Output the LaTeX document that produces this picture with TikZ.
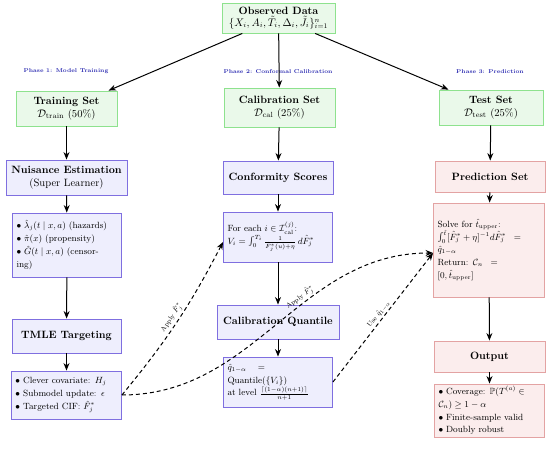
\documentclass[tikz,border=0pt]{standalone}
\usepackage{amsmath,amssymb}
\usetikzlibrary{arrows.meta}
\definecolor{gfill}{HTML}{EAF9EA}
\definecolor{gdraw}{HTML}{8EE28E}
\definecolor{bfill}{HTML}{EEEEFD}
\definecolor{bdraw}{HTML}{7F6FE0}
\definecolor{pfill}{HTML}{FBEDED}
\definecolor{pdraw}{HTML}{E3A3A3}
\definecolor{phasec}{HTML}{2A2AB0}
\begin{document}
\begin{tikzpicture}[x=1pt,y=1pt,
 box/.style={draw, line width=0.9pt, align=center, inner sep=2pt, font=\fontsize{10.6}{12.5}\selectfont},
 gbox/.style={box, draw=gdraw, fill=gfill},
 bbox/.style={box, draw=bdraw, fill=bfill},
 pbox/.style={box, draw=pdraw, fill=pfill},
 lst/.style={align=left, text width=#1, font=\fontsize{9}{12.8}\selectfont, inner xsep=4pt},
 phase/.style={font=\fontsize{5.6}{6}\selectfont\bfseries, text=phasec},
 arr/.style={-{Stealth[length=7.5pt,width=6pt]}, line width=1pt},
 darr/.style={arr, dash pattern=on 4pt off 3pt},
 lbl/.style={font=\fontsize{6.6}{7}\selectfont, sloped, above, inner sep=1.5pt}
]
\useasboundingbox (0,0) rectangle (550,457);

% top
\node[gbox, minimum width=113pt, minimum height=30pt] (obs) at (278.5,439)
 {\textbf{Observed Data}\\[-1pt] $\{X_i, A_i, \tilde{T}_i, \Delta_i, \tilde{J}_i\}_{i=1}^{n}$};

% phase labels
\node[phase] (ph1) at (66,386) {Phase 1: Model Training};
\node[phase] (ph2) at (278,385) {Phase 2: Conformal Calibration};
\node[phase] (ph3) at (490,385) {Phase 3: Prediction};

% split boxes
\node[gbox, minimum width=101pt, minimum height=35pt] (train) at (66.5,348.5)
 {\textbf{Training Set}\\ $\mathcal{D}_{\text{train}}$ (50\%)};
\node[gbox, minimum width=111pt, minimum height=39pt] (cal) at (279.5,349.5)
 {\textbf{Calibration Set}\\ $\mathcal{D}_{\text{cal}}$ (25\%)};
\node[gbox, minimum width=104pt, minimum height=35pt] (test) at (491,349.5)
 {\textbf{Test Set}\\ $\mathcal{D}_{\text{test}}$ (25\%)};

% phase 1
\node[bbox, minimum width=121pt, minimum height=35pt] (nuis) at (66.5,279.5)
 {\textbf{Nuisance Estimation}\\ (Super Learner)};
\node[bbox, lst=101pt, minimum height=64pt] (nuislist) at (67,212)
 {$\bullet$ $\hat{\lambda}_j(t \mid x,a)$ (hazards)\\
  $\bullet$ $\hat{\pi}(x)$ (propensity)\\
  $\bullet$ $\hat{G}(t \mid x,a)$ (censor-\\ing)};
\node[bbox, minimum width=109pt, minimum height=34pt] (tmle) at (66.5,121)
 {\textbf{TMLE Targeting}};
\node[bbox, lst=102pt, minimum height=48pt] (tmlelist) at (66.5,62)
 {$\bullet$ Clever covariate: $H_j$\\
  $\bullet$ Submodel update: $\epsilon$\\
  $\bullet$ Targeted CIF: $\hat{F}_j^{*}$};

% phase 2
\node[bbox, minimum width=110pt, minimum height=33pt] (conf) at (278,279.5)
 {\textbf{Conformity Scores}};
\node[bbox, lst=101pt, minimum height=50pt] (conflist) at (278,220)
 {For each $i \in \mathcal{I}_{\text{cal}}^{(j)}$:\\
  $V_i = \int_0^{T_i} \frac{1}{\hat{F}_j^{*}(u)+\eta}\, d\hat{F}_j^{*}$};
\node[bbox, minimum width=122pt, minimum height=34pt] (calq) at (278,135)
 {\textbf{Calibration Quantile}};
\node[bbox, lst=101pt, minimum height=50pt] (qlist) at (278,75)
 {$\hat{q}_{1-\alpha}\quad =$\\
  Quantile($\{V_i\}$)\\
  at level $\frac{\lceil (1-\alpha)(n+1)\rceil}{n+1}$};

% phase 3
\node[pbox, minimum width=110pt, minimum height=31pt] (pred) at (490,280.5)
 {\textbf{Prediction Set}};
\node[pbox, lst=103pt, minimum height=94pt] (predlist) at (489,207)
 {Solve for $\hat{t}_{\text{upper}}$:\\
  $\int_0^{\hat{t}}[\hat{F}_j^{*} + \eta]^{-1} d\hat{F}_j^{*} \;\;=$\\
  $\hat{q}_{1-\alpha}$\\
  Return: $\mathcal{C}_n \;\;=$\\
  $[0, \hat{t}_{\text{upper}}]$};
\node[pbox, minimum width=111pt, minimum height=31pt] (out) at (489.5,100.5)
 {\textbf{Output}};
\node[pbox, lst=102pt, minimum height=53pt] (outlist) at (489.5,46.5)
 {$\bullet$ Coverage: $\mathbb{P}(T^{(a)} \in$\\
  $\mathcal{C}_n) \geq 1-\alpha$\\
  $\bullet$ Finite-sample valid\\
  $\bullet$ Doubly robust};

% solid arrows
\draw[arr] (obs) -- (train);
\draw[arr] (obs) -- (cal);
\draw[arr] (obs) -- (test);
\draw[arr] (train) -- (nuis);
\draw[arr] (nuis) -- (nuislist);
\draw[arr] (nuislist) -- (tmle);
\draw[arr] (tmle) -- (tmlelist);
\draw[arr] (cal) -- (conf);
\draw[arr] (conf) -- (conflist);
\draw[arr] (conflist) -- (calq);
\draw[arr] (calq) -- (qlist);
\draw[arr] (test) -- (pred);
\draw[arr] (pred) -- (predlist);
\draw[arr] (predlist) -- (out);
\draw[arr] (out) -- (outlist);

% dashed arrows
\draw[darr] (tmlelist.east) to[bend right=6]
  node[lbl, pos=0.5] {Apply $\hat{F}_j^{*}$} ([yshift=-5pt]conflist.west);
\draw[darr] (tmlelist.east) to[out=0, in=180]
  node[lbl, pos=0.6] {Apply $\hat{F}_j^{*}$} ([yshift=-3pt]predlist.west);
\draw[darr] (qlist.east) --
  node[lbl, pos=0.5] {Use $\hat{q}_{1-\alpha}$} ([yshift=-3pt]predlist.west);
\end{tikzpicture}
\end{document}
